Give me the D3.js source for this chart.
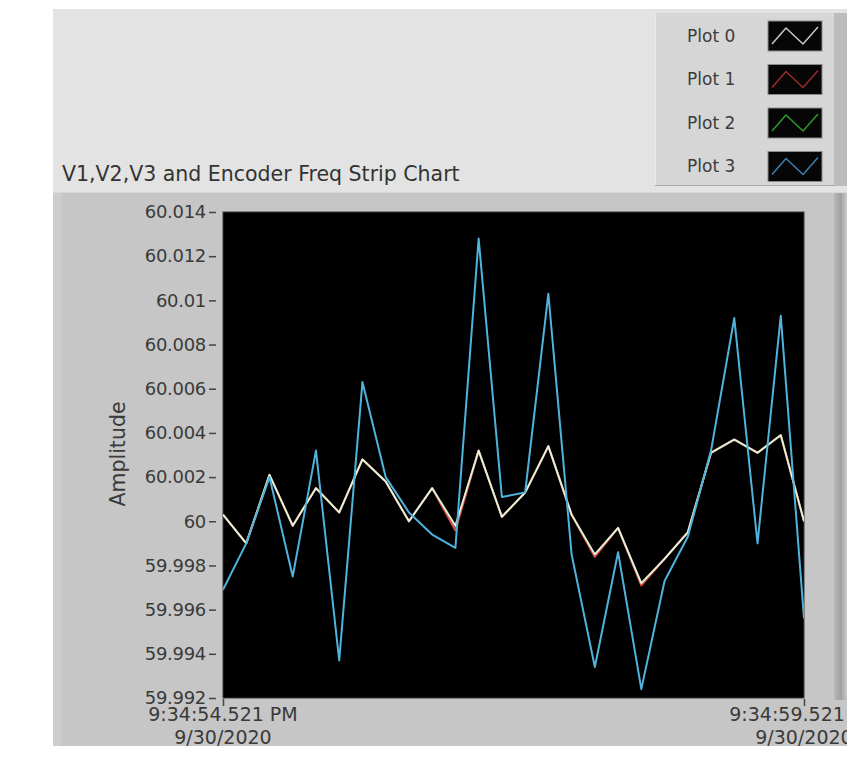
<!DOCTYPE html>
<html>
<head>
<meta charset="utf-8">
<script src="https://cdn.jsdelivr.net/npm/d3@7"></script>
<style>
  html, body { margin: 0; padding: 0; background: #ffffff; }
  svg { display: block; }
  text { font-family: "DejaVu Sans", "Noto Sans", sans-serif; }
</style>
</head>
<body>
<svg id="chart" width="847" height="774"></svg>
<script>
// ---------------- data ----------------
const chartTitle = "V1,V2,V3 and Encoder Freq Strip Chart";
const yAxisLabel = "Amplitude";
const seriesNames = ["Plot 0", "Plot 1", "Plot 2", "Plot 3"];
const seriesColors = ["#ffffff", "#e04848", "#40d040", "#4fb3de"];
const legendSwatchColors = ["#c8c8c8", "#9a2a2a", "#2c9a2c", "#3a7fae"];

// sample times (seconds after 9:34:00 PM, 9/30/2020)
const sampleSeconds = [54.521, 54.721, 54.921, 55.121, 55.321, 55.521, 55.721, 55.921, 56.121, 56.321,
                       56.521, 56.721, 56.921, 57.121, 57.321, 57.521, 57.721, 57.921, 58.121, 58.321,
                       58.521, 58.721, 58.921, 59.121, 59.321, 59.521];

const plot0 = [60.0003, 59.9990, 60.0021, 59.9998, 60.0015, 60.0004, 60.0028, 60.0018, 60.0000, 60.0015,
               59.9998, 60.0032, 60.0002, 60.0013, 60.0034, 60.0003, 59.9985, 59.9997, 59.9972, 59.9983,
               59.9995, 60.0031, 60.0037, 60.0031, 60.0039, 60.0000];
const plot1 = [60.0003, 59.9990, 60.0021, 59.9998, 60.0015, 60.0004, 60.0028, 60.0018, 60.0000, 60.0015,
               59.9996, 60.0032, 60.0002, 60.0013, 60.0034, 60.0003, 59.9984, 59.9997, 59.9971, 59.9983,
               59.9995, 60.0031, 60.0037, 60.0031, 60.0039, 60.0000];
const plot2 = [60.0003, 59.9990, 60.0021, 59.9998, 60.0015, 60.0004, 60.0028, 60.0018, 60.0000, 60.0015,
               59.9998, 60.0032, 60.0002, 60.0013, 60.0034, 60.0003, 59.9985, 59.9997, 59.9972, 59.9983,
               59.9995, 60.0031, 60.0037, 60.0031, 60.0039, 60.0000];
const plot3 = [59.9969, 59.9990, 60.0020, 59.9975, 60.0032, 59.9937, 60.0063, 60.0020, 60.0004, 59.9994,
               59.9988, 60.0128, 60.0011, 60.0013, 60.0103, 59.9985, 59.9934, 59.9986, 59.9924, 59.9973,
               59.9993, 60.0032, 60.0092, 59.9990, 60.0093, 59.9956];

const yTickValues = [59.992, 59.994, 59.996, 59.998, 60, 60.002, 60.004, 60.006, 60.008, 60.01, 60.012, 60.014];
const yTickLabels = ["59.992", "59.994", "59.996", "59.998", "60", "60.002", "60.004", "60.006", "60.008", "60.01", "60.012", "60.014"];
const xTickSeconds = [54.521, 59.521];
const xTickTimeLabels = ["9:34:54.521 PM", "9:34:59.521 PM"];
const xTickDateLabels = ["9/30/2020", "9/30/2020"];

// ---------------- layout ----------------
const svg = d3.select("#chart");
const plot = { left: 223, top: 212, right: 804, bottom: 698 };

const x = d3.scaleLinear().domain([xTickSeconds[0], xTickSeconds[1]]).range([plot.left, plot.right]);
const y = d3.scaleLinear().domain([59.992, 60.014]).range([plot.bottom, plot.top]);

const defs = svg.append("defs");
const gradR = defs.append("linearGradient").attr("id", "rbar").attr("x1", "0").attr("x2", "1");
gradR.append("stop").attr("offset", "0").attr("stop-color", "#b9b9b9");
gradR.append("stop").attr("offset", "0.5").attr("stop-color", "#a0a0a0");
gradR.append("stop").attr("offset", "1").attr("stop-color", "#c9c9c9");
defs.append("clipPath").attr("id", "plotclip").append("rect")
  .attr("x", plot.left).attr("y", plot.top).attr("width", plot.right - plot.left).attr("height", plot.bottom - plot.top);

// backgrounds
svg.append("rect").attr("x", 53).attr("y", 9).attr("width", 794).attr("height", 184).attr("fill", "#e3e3e3");
svg.append("rect").attr("x", 53).attr("y", 192).attr("width", 794).attr("height", 554).attr("fill", "#c6c6c6");
svg.append("rect").attr("x", 53).attr("y", 192).attr("width", 8).attr("height", 554).attr("fill", "#cdcdcd");
svg.append("rect").attr("x", 834).attr("y", 192).attr("width", 13).attr("height", 508).attr("fill", "url(#rbar)");
svg.append("line").attr("x1", 53).attr("x2", 847).attr("y1", 192.5).attr("y2", 192.5).attr("stroke", "#d8d8d8");

// legend
const lg = svg.append("g");
lg.append("rect").attr("x", 655).attr("y", 13).attr("width", 192).attr("height", 173).attr("fill", "#d6d6d6");
lg.append("line").attr("x1", 655.5).attr("x2", 655.5).attr("y1", 13).attr("y2", 186).attr("stroke", "#ececec");
lg.append("line").attr("x1", 655).attr("x2", 847).attr("y1", 185.5).attr("y2", 185.5).attr("stroke", "#a8a8a8");
lg.append("rect").attr("x", 834).attr("y", 13).attr("width", 13).attr("height", 173).attr("fill", "#bcbcbc");
const zig = d3.line();
seriesNames.forEach((name, i) => {
  const cy = 36 + 43.5 * i;
  lg.append("text").attr("x", 687).attr("y", cy).attr("dy", "0.35em")
    .attr("font-size", 17).attr("fill", "#3c3c3c").text(name);
  lg.append("rect").attr("x", 768).attr("y", cy - 15).attr("width", 54).attr("height", 30)
    .attr("fill", "#060606").attr("stroke", "#8a8a8a").attr("stroke-width", 1);
  lg.append("path")
    .attr("d", zig([[772, cy + 8], [786, cy - 8], [803, cy + 8], [818, cy - 9]]))
    .attr("fill", "none").attr("stroke", legendSwatchColors[i]).attr("stroke-width", 1.5)
    .attr("stroke-linejoin", "round");
});

// title
svg.append("text").attr("x", 62).attr("y", 174).attr("dy", "0.35em")
  .attr("font-size", 20.5).attr("fill", "#333333").text(chartTitle);

// plot area
svg.append("rect").attr("x", plot.left).attr("y", plot.top)
  .attr("width", plot.right - plot.left).attr("height", plot.bottom - plot.top)
  .attr("fill", "#000000").attr("stroke", "#3a3a3a").attr("stroke-width", 1);

// y axis
const yAxis = d3.axisLeft(y).tickValues(yTickValues)
  .tickFormat((d, i) => yTickLabels[i]).tickSize(7).tickPadding(3);
const yg = svg.append("g").attr("transform", `translate(${plot.left - 7},0)`).call(yAxis);
yg.select(".domain").remove();
yg.selectAll("line").attr("stroke", "#444").attr("stroke-width", 1.5);
yg.selectAll("text").attr("font-size", 18).attr("fill", "#3a3a3a")
  .attr("font-family", "'DejaVu Sans', sans-serif").attr("letter-spacing", "-0.3px");

svg.append("text").attr("transform", `translate(125,454) rotate(-90)`)
  .attr("text-anchor", "middle").attr("font-size", 20.5).attr("fill", "#3a3a3a").text(yAxisLabel);

// x axis
const xg = svg.append("g");
const xAxis = d3.axisBottom(x).tickValues(xTickSeconds).tickFormat(() => "").tickSize(7).tickPadding(0);
const xa = xg.append("g").attr("transform", `translate(0,${plot.bottom + 1})`).call(xAxis);
xa.select(".domain").remove();
xa.selectAll("line").attr("stroke", "#444").attr("stroke-width", 1.5);
xTickSeconds.forEach((s, i) => {
  xg.append("text").attr("x", x(s)).attr("y", 721).attr("text-anchor", "middle")
    .attr("font-size", 19).attr("fill", "#3a3a3a").text(xTickTimeLabels[i]);
  xg.append("text").attr("x", x(s)).attr("y", 744).attr("text-anchor", "middle")
    .attr("font-size", 19).attr("fill", "#3a3a3a").text(xTickDateLabels[i]);
});

// series
const lineGen = d3.line().x((d, i) => x(sampleSeconds[i])).y(d => y(d));
const pg = svg.append("g").attr("clip-path", "url(#plotclip)");
const drawOrder = [
  { data: plot1, color: seriesColors[1], width: 2.2, op: 1 },
  { data: plot2, color: seriesColors[2], width: 2.0, op: 0.6 },
  { data: plot0, color: seriesColors[0], width: 1.8, op: 0.85 },
  { data: plot3, color: seriesColors[3], width: 2.0, op: 1 }
];
drawOrder.forEach(s => {
  pg.append("path").datum(s.data).attr("d", lineGen)
    .attr("fill", "none").attr("stroke", s.color).attr("stroke-width", s.width)
    .attr("stroke-opacity", s.op).attr("stroke-linejoin", "round");
});
</script>
</body>
</html>
